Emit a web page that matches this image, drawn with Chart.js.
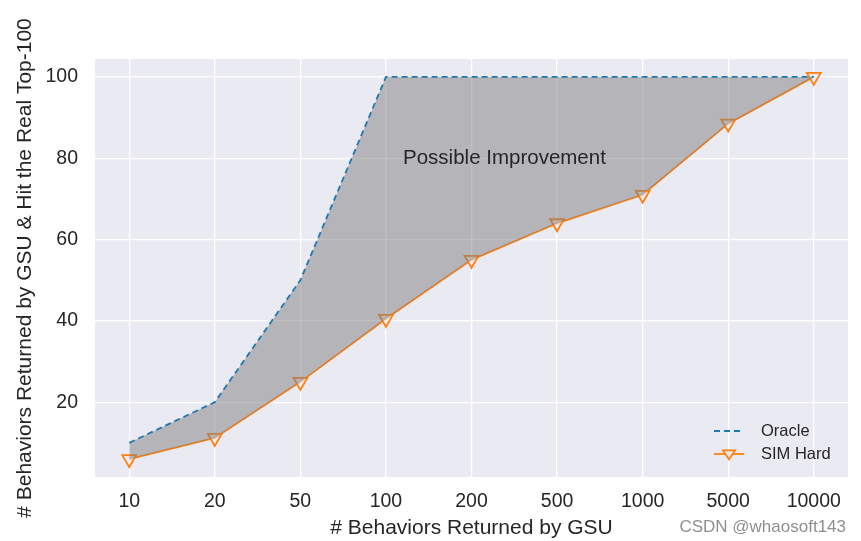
<!DOCTYPE html>
<html>
<head>
<meta charset="utf-8">
<script src="https://cdn.jsdelivr.net/npm/chart.js@4/dist/chart.umd.min.js"></script>
<style>
  body { margin: 0; background: #ffffff; }
  #wrap { width: 861px; height: 541px; }
</style>
</head>
<body>
<div id="wrap"><canvas id="lineChart" width="861" height="541"></canvas></div>
<script>
        // Données
        const xLabels = ['10', '20', '50', '100', '200', '500', '1000', '5000', '10000'];
        const oracle = [10, 20, 50, 100, 100, 100, 100, 100, 100];
        const simHard = [6, 11.2, 25, 40.5, 55, 64, 71, 88.5, 100];
        const yTicks = [20, 40, 60, 80, 100];

        const FONT = 'Arial, "Liberation Sans", sans-serif';
        const TXT = '#262626';

        // Fond de la zone de tracé + annotations
        const decorPlugin = {
            id: 'decor',
            beforeDraw(chart) {
                const { ctx, chartArea: a } = chart;
                ctx.save();
                ctx.fillStyle = '#eaeaf2';
                ctx.fillRect(a.left, a.top, a.right - a.left, a.bottom - a.top);
                ctx.restore();
            },
            afterDatasetsDraw(chart) {
                const { ctx, scales } = chart;
                ctx.save();
                // texte "Possible Improvement"
                ctx.font = '20.5px ' + FONT;
                ctx.fillStyle = TXT;
                ctx.textBaseline = 'middle';
                ctx.textAlign = 'left';
                ctx.fillText('Possible Improvement', scales.x.getPixelForValue(3.2), scales.y.getPixelForValue(80));

                // légende dans le coin inférieur droit
                const items = chart.data.datasets;
                const lx = 714, ly = 431, gap = 23;
                ctx.font = '16.5px ' + FONT;
                items.forEach((ds, i) => {
                    const y = ly + i * gap;
                    ctx.strokeStyle = ds.borderColor;
                    ctx.lineWidth = ds.borderWidth;
                    ctx.setLineDash(ds.borderDash || []);
                    ctx.beginPath();
                    ctx.moveTo(lx, y);
                    ctx.lineTo(lx + 30, y);
                    ctx.stroke();
                    ctx.setLineDash([]);
                    if (ds.pointRadius > 0) {
                        const r = 6, cx = lx + 15;
                        ctx.beginPath();
                        ctx.moveTo(cx - r, y - r * 0.6);
                        ctx.lineTo(cx + r, y - r * 0.6);
                        ctx.lineTo(cx, y + r * 0.9);
                        ctx.closePath();
                        ctx.fillStyle = '#eaeaf2';
                        ctx.fill();
                        ctx.stroke();
                    }
                    ctx.fillStyle = TXT;
                    ctx.fillText(ds.label, lx + 47, y);
                });

                // filigrane
                ctx.font = '17px ' + FONT;
                ctx.fillStyle = '#8f8f8f';
                ctx.textAlign = 'right';
                ctx.fillText('CSDN @whaosoft143', 846, 527);
                ctx.restore();
            }
        };

        const ctx = document.getElementById('lineChart').getContext('2d');
        const lineChart = new Chart(ctx, {
            type: 'line',
            data: {
                datasets: [{
                    label: 'Oracle',
                    data: oracle.map((v, i) => ({ x: i, y: v })),
                    borderColor: '#1f77b4',
                    borderWidth: 1.8,
                    borderDash: [6, 4],
                    pointRadius: 0,
                    fill: '+1',
                    backgroundColor: 'rgba(128,128,128,0.5)',
                    tension: 0
                }, {
                    label: 'SIM Hard',
                    data: simHard.map((v, i) => ({ x: i, y: v })),
                    borderColor: '#ff7f0e',
                    borderWidth: 1.8,
                    pointStyle: 'triangle',
                    rotation: 180,
                    pointRadius: 8,
                    pointBorderWidth: 1.8,
                    pointBackgroundColor: 'rgba(234,234,242,0.6)',
                    pointBorderColor: '#ff7f0e',
                    fill: false,
                    tension: 0
                }]
            },
            options: {
                responsive: false,
                animation: false,
                layout: { padding: { top: 59, right: 13, left: 0, bottom: 0 } },
                plugins: {
                    legend: { display: false },
                    tooltip: { enabled: false }
                },
                scales: {
                    x: {
                        type: 'linear',
                        min: -0.4,
                        max: 8.4,
                        afterBuildTicks: s => { s.ticks = xLabels.map((l, i) => ({ value: i })); },
                        afterFit: s => { s.height = 64; },
                        grid: { color: '#ffffff', lineWidth: 1.3, drawTicks: false },
                        border: { display: false },
                        ticks: {
                            padding: 13,
                            color: TXT,
                            font: { size: 19.5, family: FONT },
                            callback: v => xLabels[v]
                        },
                        title: {
                            display: true,
                            text: '# Behaviors Returned by GSU',
                            color: TXT,
                            font: { size: 21, family: FONT },
                            padding: { top: 4, bottom: 0 }
                        }
                    },
                    y: {
                        min: 1.6,
                        max: 104.4,
                        afterBuildTicks: s => { s.ticks = yTicks.map(v => ({ value: v })); },
                        afterFit: s => { s.width = 95; },
                        grid: { color: '#ffffff', lineWidth: 1.3, drawTicks: false },
                        border: { display: false },
                        ticks: {
                            padding: 17,
                            color: TXT,
                            font: { size: 19.5, family: FONT }
                        },
                        title: {
                            display: true,
                            text: '# Behaviors Returned by GSU & Hit the Real Top-100',
                            color: TXT,
                            font: { size: 21, family: FONT },
                            padding: { top: 13, bottom: 4 }
                        }
                    }
                }
            },
            plugins: [decorPlugin]
        });
</script>
</body>
</html>
